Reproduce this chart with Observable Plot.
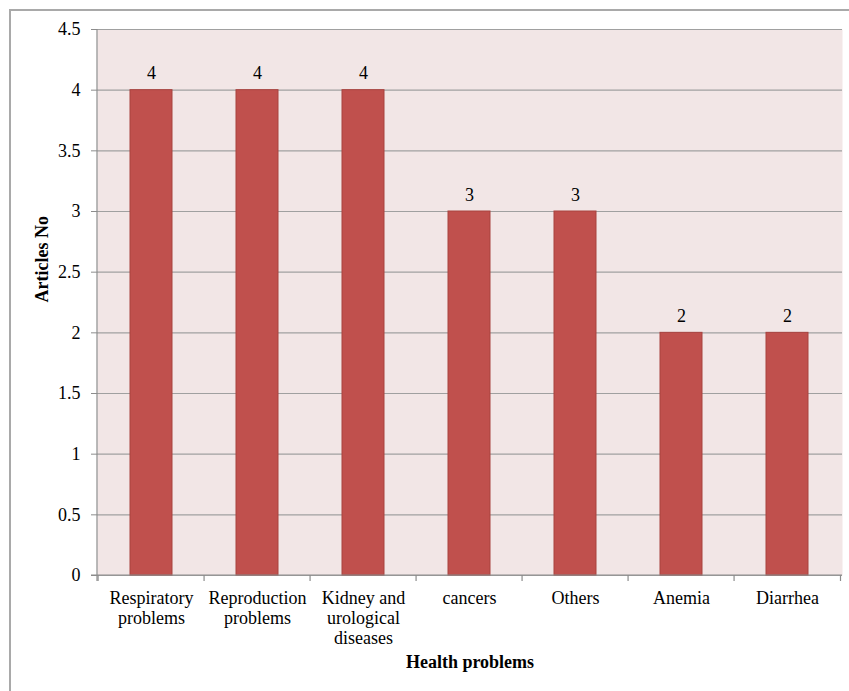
<!DOCTYPE html>
<html>
<head>
<meta charset="utf-8">
<script src="https://cdn.jsdelivr.net/npm/d3@7"></script>
<script src="https://cdn.jsdelivr.net/npm/@observablehq/plot@0.6"></script>
<style>
  html, body { margin: 0; padding: 0; background: #fff; overflow: hidden; }
  #wrap { position: relative; width: 849px; height: 691px; }
  #border { position: absolute; left: 9px; top: 9px; width: 900px; height: 800px;
            border-left: 2px solid #a9a9a9; border-top: 2px solid #a9a9a9; box-sizing: border-box; }
  #chart { position: absolute; left: 0; top: 0; }
  #chart svg text { font-family: 'Liberation Serif', 'Times New Roman', serif; }
</style>
</head>
<body>
<div id="wrap"><div id="border"></div><div id="chart"></div></div>
<script>
const categories = ["Respiratory problems", "Reproduction problems", "Kidney and urological diseases", "cancers", "Others", "Anemia", "Diarrhea"];
const xLabels = ["Respiratory\nproblems", "Reproduction\nproblems", "Kidney and\nurological\ndiseases", "cancers", "Others", "Anemia", "Diarrhea"];
const articles = [4, 4, 4, 3, 3, 2, 2];
const yTicks = [0, 0.5, 1, 1.5, 2, 2.5, 3, 3.5, 4, 4.5];

const data = categories.map((c, i) => ({category: c, value: articles[i]}));

// custom mark: left axis line, bottom axis line and tick marks at category boundaries
function bandAxisLines(index, scales, values, dimensions) {
  const {width, height, marginLeft, marginRight, marginTop, marginBottom} = dimensions;
  const n = categories.length;
  const step = (width - marginLeft - marginRight) / n;
  const bottom = height - marginBottom;
  const g = d3.create("svg:g").attr("stroke", "#8c8c8c").attr("stroke-width", 1.2);
  g.append("line").attr("x1", marginLeft).attr("x2", marginLeft).attr("y1", marginTop).attr("y2", bottom + 6);
  g.append("line").attr("x1", marginLeft - 6).attr("x2", width - marginRight).attr("y1", bottom).attr("y2", bottom);
  for (let i = 0; i <= n; i++) {
    const x = scales.x(categories[Math.min(i, n - 1)]) + (i < n ? -step * 0.3 : step * 0.7);
    g.append("line").attr("x1", x).attr("x2", x).attr("y1", bottom).attr("y2", bottom + 6);
  }
  return g.node();
}

const chart = Plot.plot({
  width: 849,
  height: 691,
  marginLeft: 97,
  marginRight: 7,
  marginTop: 29,
  marginBottom: 116,
  style: {fontFamily: "'Liberation Serif', 'Times New Roman', serif", fontSize: "18px", color: "#000", background: "transparent"},
  x: {domain: categories, paddingInner: 0.6, paddingOuter: 0.3, label: null},
  y: {domain: [0, 4.5], label: null},
  marks: [
    Plot.frame({fill: "#f2e6e6", stroke: null}),
    Plot.ruleY(yTicks, {stroke: "#a0a0a0", strokeWidth: 1.2}),
    Plot.barY(data, {x: "category", y: "value", fill: "#c0504d", stroke: "#a8423f", strokeWidth: 1}),
    Plot.text(data, {x: "category", y: "value", text: d => String(d.value), lineAnchor: "bottom", dy: -11, fill: "#000"}),
    bandAxisLines,
    Plot.axisY({ticks: yTicks, tickFormat: d => String(d), tickSize: 6, tickPadding: 11, stroke: "#8c8c8c", label: null}),
    Plot.axisX({tickSize: 0, tickPadding: 14, tickFormat: (d) => xLabels[categories.indexOf(d)], lineHeight: 1.12, label: null}),
    Plot.text(["Health problems"], {frameAnchor: "bottom", dy: 92, fontWeight: "bold", fill: "#000"}),
    Plot.text(["Articles No"], {frameAnchor: "left", dx: -55, rotate: -90, fontWeight: "bold", fill: "#000"})
  ]
});
document.getElementById("chart").appendChild(chart);
</script>
</body>
</html>
